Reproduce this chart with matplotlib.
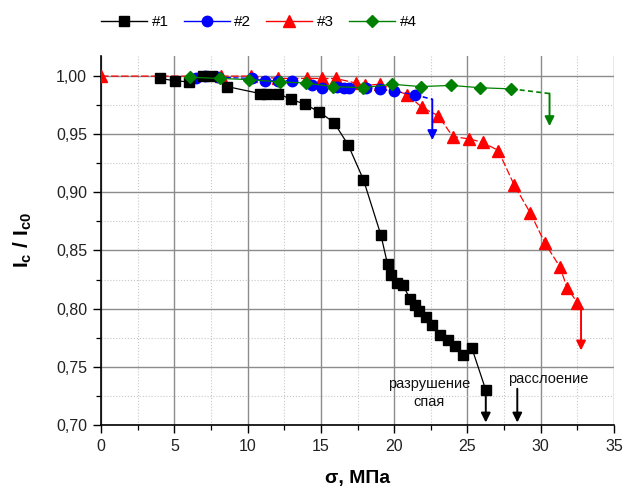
import matplotlib
matplotlib.use("Agg")
import matplotlib.pyplot as plt
from matplotlib.ticker import MultipleLocator, FuncFormatter
from matplotlib.lines import Line2D

plt.rcParams['font.family'] = ['Liberation Sans', 'DejaVu Sans']
plt.rcParams['mathtext.fontset'] = 'custom'
plt.rcParams['mathtext.rm'] = 'Liberation Sans:bold'
plt.rcParams['mathtext.it'] = 'Liberation Sans:bold'
plt.rcParams['mathtext.bf'] = 'Liberation Sans:bold'

# ---- data ----
x1 = [4.0, 5.05, 6.0, 6.95, 7.6, 8.6, 10.85, 11.3, 12.1, 12.95, 13.9, 14.9, 15.9, 16.85,
      17.9, 19.1, 19.55, 19.8, 20.2, 20.6, 21.1, 21.4, 21.7, 22.2, 22.6, 23.1, 23.7,
      24.15, 24.7, 25.3, 26.25]
y1 = [0.998, 0.996, 0.995, 1.000, 1.000, 0.991, 0.985, 0.985, 0.985, 0.980, 0.976, 0.969,
      0.960, 0.941, 0.911, 0.863, 0.838, 0.829, 0.822, 0.820, 0.808, 0.803, 0.798, 0.793,
      0.786, 0.777, 0.773, 0.768, 0.760, 0.766, 0.730]

x2 = [6.5, 7.1, 8.0, 10.3, 11.2, 12.1, 13.0, 14.4, 15.1, 16.1, 16.6, 16.9, 18.1, 19.0,
      20.0, 21.4]
y2 = [0.998, 1.000, 0.999, 0.998, 0.996, 0.996, 0.996, 0.992, 0.990, 0.991, 0.990, 0.990,
      0.990, 0.989, 0.987, 0.984]

x3 = [0.0, 8.2, 10.2, 12.1, 14.05, 15.1, 16.0, 17.4, 18.0, 19.0, 20.9, 21.9, 23.0, 24.0,
      25.1, 26.05, 27.1, 28.2, 29.3, 30.3, 31.3, 31.8, 32.5]
y3 = [1.000, 1.000, 1.000, 0.998, 0.998, 0.998, 0.998, 0.994, 0.992, 0.993, 0.984, 0.973,
      0.966, 0.948, 0.946, 0.943, 0.936, 0.906, 0.882, 0.856, 0.836, 0.818, 0.805]

x4 = [6.1, 8.1, 10.1, 12.2, 14.0, 15.8, 17.9, 19.85, 21.8, 23.9, 25.85, 28.0]
y4 = [0.999, 0.998, 0.997, 0.995, 0.994, 0.991, 0.990, 0.993, 0.991, 0.992, 0.990, 0.989]

series_labels = ['#1', '#2', '#3', '#4']
series_colors = ['black', 'blue', 'red', 'green']

# failure arrows: x, y start, y end
fail_x = [26.25, 22.6, 32.75, 30.6]
fail_y0 = [0.726, 0.980, 0.802, 0.985]
fail_y1 = [0.702, 0.945, 0.764, 0.957]

# delamination arrow
delam_x = 28.4
delam_y0 = 0.731
delam_y1 = 0.702

xticks = [0, 5, 10, 15, 20, 25, 30, 35]
yticks = [0.70, 0.75, 0.80, 0.85, 0.90, 0.95, 1.00]

# ---- figure ----
fig = plt.figure(figsize=(6.24, 4.90), dpi=100)
ax = fig.add_axes([0.162, 0.133, 0.822, 0.752])

ax.set_xlim(0, 35)
ax.set_ylim(0.70, 1.017)

ax.xaxis.set_major_locator(MultipleLocator(5))
ax.xaxis.set_minor_locator(MultipleLocator(2.5))
ax.yaxis.set_major_locator(MultipleLocator(0.05))
ax.yaxis.set_minor_locator(MultipleLocator(0.025))
ax.set_xticks(xticks)
ax.set_yticks(yticks)
ax.yaxis.set_major_formatter(FuncFormatter(lambda v, p: f"{v:.2f}".replace('.', ',')))

ax.grid(which='major', color='#8c8c8c', linewidth=1.0, linestyle='-')
ax.grid(which='minor', color='#c8c8c8', linewidth=0.8, linestyle=':')
ax.set_axisbelow(True)

for s in ['top', 'right']:
    ax.spines[s].set_visible(False)
for s in ['left', 'bottom']:
    ax.spines[s].set_linewidth(1.2)

ax.tick_params(which='major', direction='out', length=6, width=1.0, labelsize=11.5,
               colors='black', pad=4)
ax.tick_params(which='minor', direction='out', length=3.5, width=0.9)
for lab in ax.get_xticklabels() + ax.get_yticklabels():
    lab.set_color('#222222')

# series
ax.plot(x1, y1, color='black', linestyle='-', linewidth=0.9, marker='s', markersize=6.8,
        zorder=5)
ax.plot(x2, y2, color='blue', linestyle=(0, (4, 2)), linewidth=0.9, marker='o',
        markersize=7.5, zorder=4)
ax.plot(x3, y3, color='red', linestyle=(0, (6, 2)), linewidth=0.9, marker='^',
        markersize=8, zorder=3)
ax.plot(x4, y4, color='green', linestyle='-', linewidth=0.9, marker='D', markersize=6.5,
        zorder=6)

# connectors from last point to failure arrows
last_x = [x1[-1], x2[-1], x3[-1], x4[-1]]
last_y = [y1[-1], y2[-1], y3[-1], y4[-1]]
conn_styles = ['-', (0, (3, 2)), '-', (0, (3, 2))]
for i in range(4):
    ax.plot([last_x[i], fail_x[i]], [last_y[i], fail_y0[i]], color=series_colors[i],
            linestyle=conn_styles[i], linewidth=1.2, zorder=2)
    ax.annotate('', xy=(fail_x[i], fail_y1[i]), xytext=(fail_x[i], fail_y0[i]),
                arrowprops=dict(arrowstyle='-|>', color=series_colors[i], lw=1.4,
                                mutation_scale=14, shrinkA=0, shrinkB=0), zorder=7)

ax.annotate('', xy=(delam_x, delam_y1), xytext=(delam_x, delam_y0),
            arrowprops=dict(arrowstyle='-|>', color='black', lw=1.4, mutation_scale=14,
                            shrinkA=0, shrinkB=0), zorder=7)

ax.text(22.4, 0.735, 'разрушение', ha='center', va='center', fontsize=10.5, color='#111111')
ax.text(22.4, 0.720, 'спая', ha='center', va='center', fontsize=10.5, color='#111111')
ax.text(30.5, 0.739, 'расслоение', ha='center', va='center', fontsize=10.5, color='#111111')

ax.set_xlabel('σ, МПа', fontsize=14, fontweight='bold', labelpad=12)
ax.set_ylabel('I$_{c}$ / I$_{c0}$', fontsize=15, fontweight='bold', labelpad=16)

# legend
markers = ['s', 'o', '^', 'D']
msizes = [6.8, 7.5, 8, 6.5]
handles = [Line2D([0], [0], color=series_colors[i], linestyle='-', linewidth=1.0,
                  marker=markers[i], markersize=msizes[i]) for i in range(4)]
fig.legend(handles, series_labels, loc='upper left', bbox_to_anchor=(0.14, 0.997),
           ncol=4, frameon=False, fontsize=11, handlelength=3.0, handletextpad=0.3,
           columnspacing=1.0)

fig.savefig('out.png', dpi=100)
